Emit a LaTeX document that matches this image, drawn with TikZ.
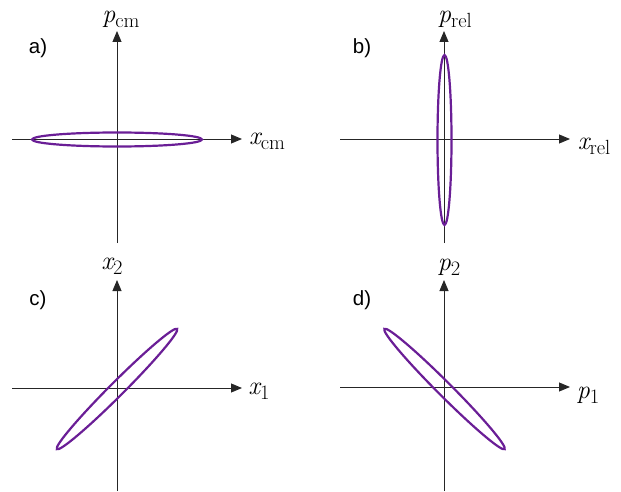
\documentclass[tikz,border=0pt]{standalone}
\usepackage{fontspec}
\newfontfamily\labfont{Liberation Sans}
\usetikzlibrary{arrows.meta}
\definecolor{ellpurple}{RGB}{106,30,150}
\newcommand{\axlab}[2]{{\itshape #1}\raisebox{-5pt}{\fontsize{20.5}{20.5}\selectfont #2}}
\begin{document}
\begin{tikzpicture}[x=1pt,y=1pt,
  axis/.style={draw=black!85,line width=0.9pt,-{Triangle[length=11pt,width=9pt]}},
  ell/.style={draw=ellpurple,line width=2.2pt},
  mlab/.style={inner sep=0pt,font=\fontsize{26}{29}\selectfont},
  plab/.style={inner sep=0pt,font=\labfont\fontsize{20.5}{23}\selectfont}]
\useasboundingbox (0,0) rectangle (621,491);
% panel a
\coordinate (a0) at (117,248); \coordinate (a1) at (117,460);
\coordinate (a2) at (12,352); \coordinate (a3) at (242,352);
\draw[axis] (a0) -- (a1);
\draw[axis] (a2) -- (a3);
\draw[ell] (117,351.5) ellipse [x radius=85, y radius=7];
\node[mlab] (pcm) at (121,472) {\axlab{p}{cm}};
\node[mlab] (xcm) at (267,350) {\axlab{x}{cm}};
\node[plab] (la) at (38,443) {a)};
% panel b
\coordinate (b0) at (444,248); \coordinate (b1) at (444,460);
\coordinate (b2) at (340,352); \coordinate (b3) at (570,352);
\draw[axis] (b0) -- (b1);
\draw[axis] (b2) -- (b3);
\draw[ell] (444.5,351) ellipse [x radius=7, y radius=85];
\node[mlab] (prel) at (455,472) {\axlab{p}{rel}};
\node[mlab] (xrel) at (594,345) {\axlab{x}{rel}};
\node[plab] (lb) at (362,443) {b)};
% panel c
\coordinate (c0) at (117,0); \coordinate (c1) at (117,211);
\coordinate (c2) at (12,103); \coordinate (c3) at (242,103);
\draw[axis] (c0) -- (c1);
\draw[axis] (c2) -- (c3);
\draw[ell,rotate around={45:(117,102)}] (117,102) ellipse [x radius=85, y radius=7];
\node[mlab] (x2) at (112,225) {\axlab{x}{2}};
\node[mlab] (x1) at (259,100) {\axlab{x}{1}};
\node[plab] (lc) at (38,191) {c)};
% panel d
\coordinate (d0) at (444,0); \coordinate (d1) at (444,211);
\coordinate (d2) at (340,104); \coordinate (d3) at (570,104);
\draw[axis] (d0) -- (d1);
\draw[axis] (d2) -- (d3);
\draw[ell,rotate around={-45:(444.5,102)}] (444.5,102) ellipse [x radius=85, y radius=7];
\node[mlab] (p2) at (449,224) {\axlab{p}{2}};
\node[mlab] (p1) at (588,96) {\axlab{p}{1}};
\node[plab] (ld) at (362,191) {d)};
\end{tikzpicture}
\end{document}
